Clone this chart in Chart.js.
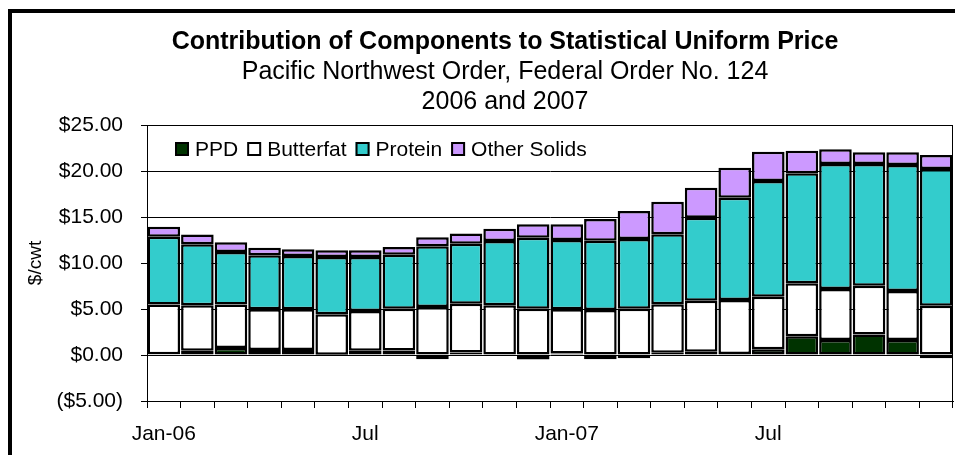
<!DOCTYPE html>
<html>
<head>
<meta charset="utf-8">
<title>Contribution of Components to Statistical Uniform Price</title>
<script src="https://cdn.jsdelivr.net/npm/chart.js@4.4.1/dist/chart.umd.min.js"></script>
<style>
  html, body { margin: 0; padding: 0; background: #fff; }
  #wrap { position: relative; width: 955px; height: 455px; overflow: hidden; }
  #frame {
    position: absolute; left: 8px; top: 9px; width: 1000px; height: 500px;
    border-left: 4px solid #000; border-top: 4px solid #000;
  }
  #chart { position: absolute; left: 0; top: 0; }
</style>
</head>
<body>
<div id="wrap">
  <div id="frame"></div>
  <canvas id="chart" width="955" height="455"></canvas>
</div>
<script>
const titleLines = [
  'Contribution of Components to Statistical Uniform Price',
  'Pacific Northwest Order, Federal Order No. 124',
  '2006 and 2007'
];

// Months Jan-06 .. Dec-07
const months = [
  'Jan-06', 'Feb-06', 'Mar-06', 'Apr-06', 'May-06', 'Jun-06',
  'Jul-06', 'Aug-06', 'Sep-06', 'Oct-06', 'Nov-06', 'Dec-06',
  'Jan-07', 'Feb-07', 'Mar-07', 'Apr-07', 'May-07', 'Jun-07',
  'Jul-07', 'Aug-07', 'Sep-07', 'Oct-07', 'Nov-07', 'Dec-07'
];
// Only every sixth month is labelled on the axis
const tickLabels = [
  'Jan-06', '', '', '', '', '', 'Jul', '', '', '', '', '',
  'Jan-07', '', '', '', '', '', 'Jul', '', '', '', '', ''
];

// $/cwt contributed by each component
const ppd = [
  0.08, 0.47, 0.76, 0.54, 0.54, 0.02, 0.47, 0.50, -0.45, 0.27, 0.05, -0.50,
  0.15, -0.47, -0.36, 0.25, 0.36, 0.10, 0.63, 2.05, 1.63, 2.22, 1.63, -0.36
];
const butterfat = [
  5.42, 4.93, 4.74, 4.42, 4.42, 4.40, 4.31, 4.54, 5.22, 5.31, 5.35, 5.04,
  4.81, 4.89, 5.04, 5.26, 5.55, 5.88, 5.71, 5.74, 5.54, 5.32, 5.33, 5.36
];
const protein = [
  7.36, 6.63, 5.70, 5.87, 5.80, 6.23, 5.87, 5.86, 6.59, 6.52, 6.99, 7.71,
  7.54, 7.54, 7.57, 7.61, 9.02, 11.12, 12.57, 11.96, 13.59, 13.22, 13.69, 14.86
];
const otherSolids = [
  1.09, 1.07, 1.05, 0.84, 0.73, 0.73, 0.73, 0.84, 0.98, 1.12, 1.34, 1.45,
  1.70, 2.35, 3.04, 3.55, 3.26, 3.26, 3.19, 2.46, 1.60, 1.27, 1.38, 1.52
];

const FONT = '"Liberation Sans", Arial, Helvetica, sans-serif';
Chart.defaults.font.family = FONT;
Chart.defaults.color = '#000';

// Heading is centred on the whole (wider, cropped) chart object, not the canvas
const heading = {
  id: 'heading',
  afterDraw(chart) {
    const { ctx } = chart;
    const cx = 505;
    ctx.save();
    ctx.fillStyle = '#000';
    ctx.textAlign = 'center';
    ctx.textBaseline = 'middle';
    ctx.font = 'bold 25px ' + FONT;
    ctx.fillText(titleLines[0], cx, 42);
    ctx.font = '25px ' + FONT;
    ctx.fillText(titleLines[1], cx, 72);
    ctx.fillText(titleLines[2], cx, 102);
    ctx.restore();
  }
};

// Outline of the plot area (top and right edges are visible in the original)
const plotFrame = {
  id: 'plotFrame',
  beforeDatasetsDraw(chart) {
    const { ctx, chartArea: a } = chart;
    ctx.save();
    ctx.strokeStyle = '#000';
    ctx.lineWidth = 1;
    ctx.strokeRect(a.left + 0.5, a.top + 0.5, a.right - a.left - 1, a.bottom - a.top);
    ctx.restore();
  }
};

// Legend sits inside the plot area, top left, in one row
const innerLegend = {
  id: 'innerLegend',
  afterDraw(chart) {
    const { ctx, chartArea: a } = chart;
    const box = 14;
    let x = a.left + 28;
    const y = a.top + 24;
    ctx.save();
    ctx.font = '21px ' + FONT;
    ctx.textBaseline = 'middle';
    chart.data.datasets.forEach(ds => {
      ctx.fillStyle = ds.backgroundColor;
      ctx.fillRect(x, y - box / 2, box, box);
      ctx.strokeStyle = '#000';
      ctx.lineWidth = 2;
      ctx.strokeRect(x + 1, y - box / 2 + 1, box - 2, box - 2);
      ctx.fillStyle = '#000';
      ctx.fillText(ds.label, x + 20, y + 1);
      x += 20 + ctx.measureText(ds.label).width + 9;
    });
    ctx.restore();
  }
};

const barStyle = {
  borderColor: '#000',
  borderWidth: 2.5,
  borderSkipped: false,
  barPercentage: 0.97,
  categoryPercentage: 1
};

new Chart(document.getElementById('chart').getContext('2d'), {
  type: 'bar',
  data: {
    labels: months,
    datasets: [
      { label: 'PPD', data: ppd, backgroundColor: '#003300', ...barStyle },
      { label: 'Butterfat', data: butterfat, backgroundColor: '#ffffff', ...barStyle },
      { label: 'Protein', data: protein, backgroundColor: '#33cccc', ...barStyle },
      { label: 'Other Solids', data: otherSolids, backgroundColor: '#cc99ff', ...barStyle }
    ]
  },
  options: {
    responsive: false,
    animation: false,
    layout: { padding: { left: 0, right: 2, top: 125, bottom: 0 } },
    plugins: {
      legend: { display: false },
      tooltip: { enabled: false },
      title: { display: false }
    },
    scales: {
      x: {
        stacked: true,
        grid: { drawOnChartArea: false, drawTicks: true, tickLength: 7, color: '#000' },
        border: { color: '#000', width: 1 },
        ticks: {
          autoSkip: false,
          maxRotation: 0,
          padding: 14,
          font: { size: 21 },
          callback: (value, index) => tickLabels[index]
        },
        afterFit: scale => { scale.height = 54; }
      },
      y: {
        stacked: true,
        min: -5,
        max: 25,
        grid: { color: '#000', tickLength: 6 },
        border: { color: '#000', width: 1 },
        ticks: {
          stepSize: 5,
          padding: 18,
          font: { size: 21 },
          callback: v => v < 0 ? '($' + Math.abs(v).toFixed(2) + ')' : '$' + v.toFixed(2)
        },
        title: {
          display: true,
          text: '$/cwt',
          font: { size: 19 },
          padding: { top: 24, bottom: 0 }
        },
        afterFit: scale => { scale.width = 147; }
      }
    }
  },
  plugins: [plotFrame, innerLegend, heading]
});
</script>
</body>
</html>
